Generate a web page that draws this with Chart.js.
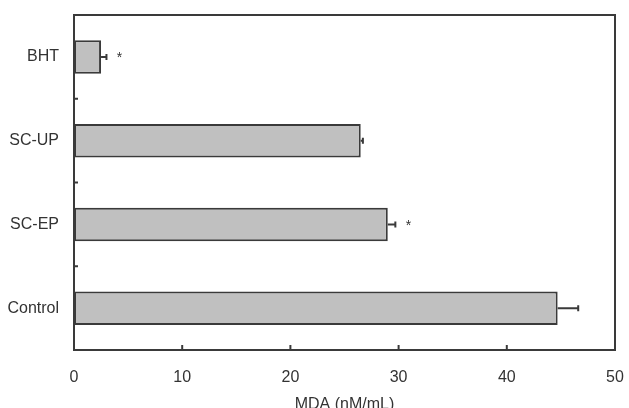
<!DOCTYPE html>
<html>
<head>
<meta charset="utf-8">
<script src="https://cdn.jsdelivr.net/npm/chart.js@4"></script>
<style>
  html, body { margin: 0; padding: 0; background: #fff; }
  #wrap { width: 629px; height: 408px; }
</style>
</head>
<body>
<div id="wrap"><canvas id="mdaChart"></canvas></div>
<script>
/* Data Value */
const groups = ["BHT", "SC-UP", "SC-EP", "Control"];
const mdaValues = [2.5, 26.5, 29.0, 44.7];
const mdaErrors = [0.5, 0.2, 0.7, 1.9];
const marks = ["*", "", "*", ""];
const xTicks = [0, 10, 20, 30, 40, 50];

const lineColor = "#3a3a3a";
const fontFamily = "'Liberation Sans', Arial, sans-serif";

/* error bars, asterisks, inner ticks, frame */
const extras = {
  id: "extras",
  afterDatasetsDraw(chart) {
    const { ctx, chartArea: a, scales: { x, y } } = chart;
    ctx.save();
    ctx.strokeStyle = lineColor;
    ctx.lineWidth = 2;

    // error bars
    mdaValues.forEach((v, i) => {
      const yc = y.getPixelForValue(i);
      const x0 = x.getPixelForValue(v);
      const x1 = x.getPixelForValue(v + mdaErrors[i]);
      ctx.beginPath();
      ctx.moveTo(x0, yc);
      ctx.lineTo(x1, yc);
      ctx.moveTo(x1, yc - 3);
      ctx.lineTo(x1, yc + 3);
      ctx.stroke();

      if (marks[i]) {
        ctx.fillStyle = "#333";
        ctx.font = "14px " + fontFamily;
        ctx.textAlign = "center";
        ctx.textBaseline = "middle";
        ctx.fillText(marks[i], x1 + 13, yc + 1.5);
      }
    });

    // x ticks pointing inward
    xTicks.forEach((t) => {
      const px = x.getPixelForValue(t);
      ctx.beginPath();
      ctx.moveTo(px, a.bottom);
      ctx.lineTo(px, a.bottom - 5);
      ctx.stroke();
    });

    // y ticks between groups
    for (let i = 0; i < groups.length - 1; i++) {
      const py = y.getPixelForValue(i + 0.5);
      ctx.beginPath();
      ctx.moveTo(a.left, py);
      ctx.lineTo(a.left + 4, py);
      ctx.stroke();
    }

    // frame
    ctx.strokeRect(a.left, a.top, a.right - a.left, a.bottom - a.top);
    ctx.restore();
  },
};

/* Chart */
const mdaChart = new Chart(document.getElementById("mdaChart"), {
  type: "bar",
  data: {
    labels: groups,
    datasets: [
      {
        data: mdaValues,
        backgroundColor: "#c0c0c0",
        borderColor: lineColor,
        borderWidth: 2,
        borderSkipped: false,
        barPercentage: 0.4,
        categoryPercentage: 1,
      },
    ],
  },
  options: {
    indexAxis: "y",
    responsive: true,
    maintainAspectRatio: false,
    animation: false,
    layout: { padding: { top: 15, right: 14, left: 0, bottom: 0 } },
    scales: {
      x: {
        min: 0,
        max: 50,
        afterBuildTicks: (s) => { s.ticks = xTicks.map((v) => ({ value: v })); },
        afterFit: (s) => {
          s.height = 58;
          s.paddingLeft = 0;
          s.paddingRight = 0;
        },
        grid: { display: false, drawTicks: false },
        border: { display: false },
        ticks: {
          padding: 18,
          color: "#333",
          font: { family: fontFamily, size: 16 },
        },
        title: {
          display: true,
          text: "MDA (nM/mL)",
          color: "#333",
          padding: { top: 6, bottom: -6 },
          font: { family: fontFamily, size: 16 },
        },
      },
      y: {
        afterFit: (s) => {
          s.width = 74;
          s.paddingTop = 0;
          s.paddingBottom = 0;
        },
        grid: { display: false, drawTicks: false },
        border: { display: false },
        ticks: {
          padding: 15,
          color: "#333",
          font: { family: fontFamily, size: 16 },
        },
      },
    },
    plugins: {
      legend: { display: false },
      tooltip: { enabled: false },
    },
  },
  plugins: [extras],
});
</script>
</body>
</html>
